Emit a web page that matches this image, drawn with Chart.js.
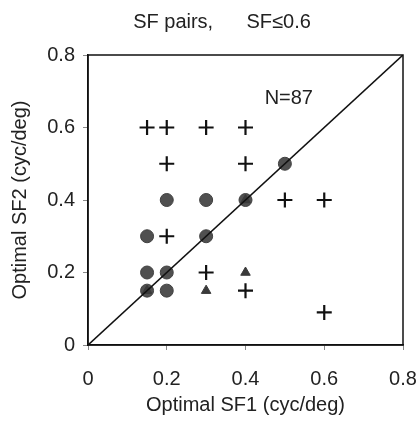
<!DOCTYPE html>
<html><head><meta charset="utf-8">
<script src="https://cdn.jsdelivr.net/npm/chart.js@4"></script>
<style>html,body{margin:0;padding:0;background:#fff}#wrap{width:419px;height:421px}</style>
</head><body><div id="wrap"><canvas id="c" width="419" height="421"></canvas></div>
<script>
const ticksX = [0, 0.2, 0.4, 0.6, 0.8];
const ticksY = [0, 0.2, 0.4, 0.6, 0.8];
const plusX = [0.15, 0.2, 0.3, 0.4, 0.2, 0.4, 0.5, 0.6, 0.2, 0.3, 0.4, 0.6];
const plusY = [0.6, 0.6, 0.6, 0.6, 0.5, 0.5, 0.4, 0.4, 0.3, 0.2, 0.15, 0.09];
const circX = [0.5, 0.2, 0.3, 0.4, 0.15, 0.3, 0.15, 0.2, 0.15, 0.2];
const circY = [0.5, 0.4, 0.4, 0.4, 0.3, 0.3, 0.2, 0.2, 0.15, 0.15];
const triX = [0.4, 0.4, 0.3, 0.15];
const triY = [0.4, 0.2, 0.15, 0.15];
const diagX = [0, 0.8];
const diagY = [0, 0.8];
const nLabel = "N=87";
const titleText = "SF pairs,      SF\u22640.6";

const pts = (xs, ys) => xs.map((x, i) => ({x, y: ys[i]}));
const FONT = "'Liberation Sans', Arial, sans-serif";
const FS = 20;

const extras = {
  id: 'extras',
  afterDraw(chart) {
    const {ctx, chartArea: a, scales} = chart;
    ctx.save();
    ctx.strokeStyle = '#111';
    ctx.lineWidth = 1.5;
    ctx.strokeRect(a.left, a.top, a.right - a.left, a.bottom - a.top);
    ctx.fillStyle = '#222';
    ctx.font = FS + 'px ' + FONT;
    ctx.textAlign = 'center';
    ctx.textBaseline = 'middle';
    ctx.fillText(nLabel, scales.x.getPixelForValue(0.51), scales.y.getPixelForValue(0.68));
    ctx.fillText(titleText, 222, 22);
    ctx.restore();
  }
};

new Chart(document.getElementById('c'), {
  type: 'scatter',
  data: {
    datasets: [
      {data: pts(diagX, diagY), showLine: true, borderColor: '#111', borderWidth: 1.6, pointRadius: 0, fill: false},
      {data: pts(triX, triY), pointStyle: 'triangle', pointRadius: 5.5, backgroundColor: '#3a3a3a', borderColor: '#3a3a3a', borderWidth: 1},
      {data: pts(circX, circY), pointStyle: 'circle', pointRadius: 6.5, backgroundColor: '#505050', borderColor: '#404040', borderWidth: 1},
      {data: pts(plusX, plusY), pointStyle: 'cross', pointRadius: 7.5, borderColor: '#111', borderWidth: 2.2}
    ]
  },
  options: {
    responsive: false,
    animation: false,
    layout: {padding: {top: 55, right: 16, left: 0, bottom: 0}},
    plugins: {legend: {display: false}, tooltip: {enabled: false}},
    scales: {
      x: {
        type: 'linear', min: 0, max: 0.8,
        afterBuildTicks: s => { s.ticks = ticksX.map(v => ({value: v})); },
        afterFit: s => { s.height = 76; s.paddingLeft = 0; s.paddingRight = 0; },
        grid: {drawOnChartArea: false, tickLength: 5, color: '#888'},
        border: {display: true, color: '#111', width: 1.5},
        ticks: {color: '#222', font: {size: FS, family: FONT}, padding: 17, maxRotation: 0,
                callback: v => String(v)},
        title: {display: true, text: 'Optimal SF1 (cyc/deg)', color: '#222', font: {size: FS, family: FONT}, padding: {top: 4, bottom: 4}}
      },
      y: {
        type: 'linear', min: 0, max: 0.8,
        afterBuildTicks: s => { s.ticks = ticksY.map(v => ({value: v})); },
        afterFit: s => { s.width = 88; s.paddingTop = 0; s.paddingBottom = 0; },
        grid: {drawOnChartArea: false, tickLength: 5, color: '#888'},
        border: {display: true, color: '#111', width: 1.5},
        ticks: {color: '#222', font: {size: FS, family: FONT}, padding: 8,
                callback: v => String(v)},
        title: {display: true, text: 'Optimal SF2 (cyc/deg)', color: '#222', font: {size: FS, family: FONT}, padding: {top: 8, bottom: 4}}
      }
    }
  },
  plugins: [extras]
});
</script>
</body></html>
